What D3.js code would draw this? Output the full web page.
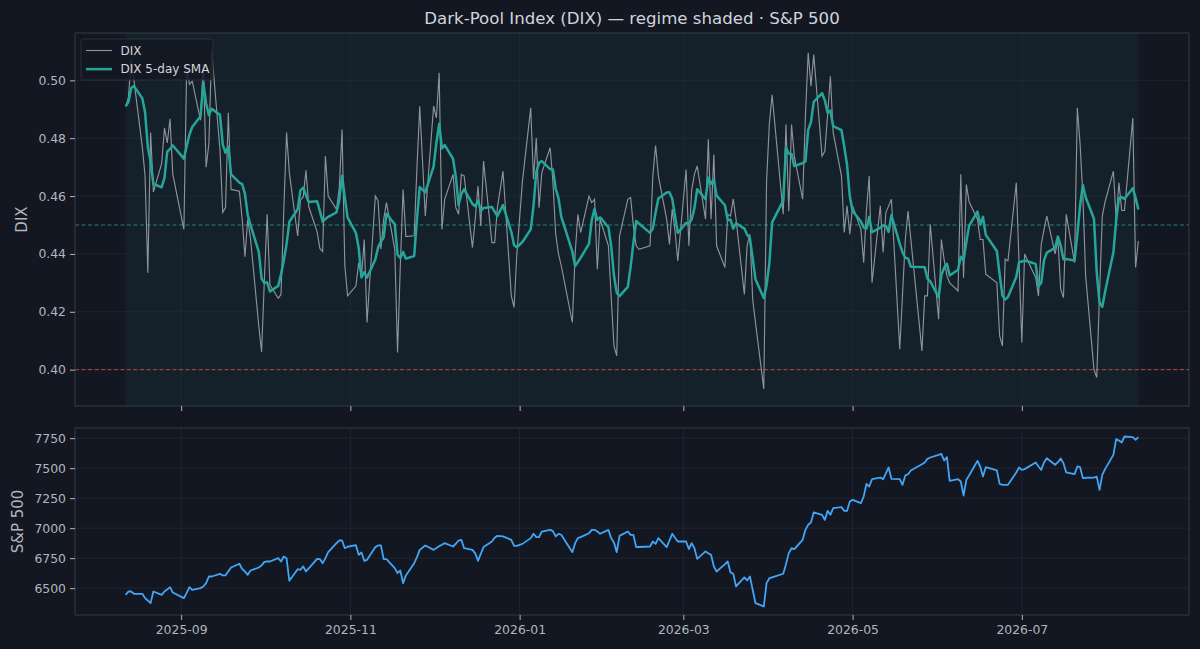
<!DOCTYPE html>
<html><head><meta charset="utf-8">
<script src="https://cdn.jsdelivr.net/npm/d3@7"></script>
<style>
html,body{margin:0;padding:0;background:#131722;}
svg{display:block;}
text{font-family:"DejaVu Sans",sans-serif;}
</style></head><body>
<svg id="chart" width="1200" height="649"></svg>
<script>
// ---------------- data ----------------
const startDate = "2025-08-12";
const endDate = "2026-08-12";
const holidays = ["2025-09-01","2025-11-27","2025-12-25","2026-01-01","2026-01-19",
  "2026-02-16","2026-04-03","2026-05-25","2026-06-19","2026-07-03"];

// DIX, one value per trading day (weekly rows)
const dix = [
  0.491,0.494,0.507,0.500,
  0.477,0.467,0.4335,0.482,0.4614,
  0.4713,0.4836,0.4784,0.4867,0.4675,
  0.4485,0.505,0.4986,0.4997,
  0.4862,0.506,0.470,0.478,0.5105,
  0.476,0.4543,0.456,0.4888,0.4623,
  0.4617,0.452,0.439,0.452,0.4454,
  0.415,0.4061,0.431,0.4537,0.4293,
  0.4247,0.426,0.455,0.482,0.468,
  0.4462,0.4586,0.4597,0.4689,0.4563,
  0.4477,0.4419,0.4408,0.4738,0.460,
  0.4554,0.463,0.483,0.4359,0.4255,
  0.4289,0.437,0.432,0.445,0.4163,
  0.460,0.4583,0.4416,0.452,0.4577,
  0.4416,0.4059,0.436,0.4623,0.446,
  0.4463,0.470,0.491,0.4531,
  0.4911,0.487,0.5026,0.4485,0.4589,
  0.4675,0.456,0.4537,0.4675,0.467,
  0.4422,0.452,0.4635,0.4497,0.4721,
  0.4439,0.4439,0.456,0.4686,
  0.4255,0.4215,0.440,0.465,
  0.4905,0.4658,0.4801,0.456,0.4681,
  0.4767,0.465,0.4468,0.440,0.436,
  0.4163,0.440,0.4537,0.4474,
  0.460,0.4577,0.4589,0.4347,0.452,
  0.4428,0.425,0.4082,0.4048,0.4462,
  0.4589,0.4595,0.4497,0.4428,0.4416,
  0.4428,0.4669,0.4775,0.467,
  0.452,0.4433,0.4555,0.448,0.4376,
  0.4692,0.4428,0.462,0.4675,0.4704,
  0.452,0.4796,0.452,0.4744,0.4428,
  0.4353,0.4537,0.4531,0.459,0.452,
  0.426,0.443,0.4468,0.4243,0.4163,
  0.3933,0.465,0.485,0.495,
  0.4537,0.4847,0.4548,0.4847,0.4738,
  0.4589,0.4876,0.5095,0.498,0.5089,
  0.4738,0.4755,0.488,0.5014,0.482,
  0.4669,0.4474,0.4566,0.4468,0.4566,
  0.4485,0.437,0.455,0.4669,0.4301,
  0.4566,0.4405,0.4543,0.4566,0.4589,
  0.4071,0.426,0.445,0.4548,0.445,
  0.4065,0.4255,0.4255,0.4502,
  0.4174,0.445,0.438,0.4324,0.430,
  0.4272,0.4675,0.4318,0.464,0.458,
  0.452,0.445,0.445,0.433,
  0.430,0.4117,0.4082,0.4382,0.4376,
  0.4646,0.437,0.4094,0.440,
  0.4318,0.4255,0.4433,0.4485,0.4531,
  0.440,0.445,0.4278,0.4249,0.4537,
  0.437,0.4905,0.478,0.460,0.4324,
  0.400,0.3973,0.426,0.4531,0.458,
  0.4686,0.452,0.4646,0.455,0.455,
  0.487,0.4353,0.4445
];

// S&P 500 close, same trading days
const spx = [
  6444,6472,6472,6453,
  6453,6417,6397,6375,6472,
  6444,6472,6490,6508,6464,
  6417,6460,6508,6486,
  6500,6514,6542,6597,6597,
  6619,6606,6606,6640,6672,
  6703,6660,6639,6611,6647,
  6672,6690,6719,6722,6722,
  6750,6722,6764,6750,6561,
  6658,6653,6681,6639,6665,
  6744,6742,6708,6750,6800,
  6875,6897,6897,6833,6845,
  6858,6778,6797,6728,6736,
  6842,6856,6856,6742,6742,
  6667,6625,6647,6542,6606,
  6708,6758,6819,6856,
  6819,6835,6850,6862,6875,
  6847,6870,6897,6903,6833,
  6819,6790,6728,6785,6842,
  6889,6920,6936,6931,
  6903,6853,6853,6869,
  6917,6953,6925,6925,6972,
  6986,6975,6931,6953,6945,
  6800,6875,6917,6925,
  6958,6986,6986,6972,6953,
  6986,6917,6880,6800,6936,
  6972,6944,6944,6842,6843,
  6847,6889,6869,6917,
  6842,6897,6953,6920,6889,
  6889,6825,6875,6833,6744,
  6806,6790,6778,6681,6639,
  6700,6722,6631,6620,6514,
  6589,6564,6597,6486,6375,
  6347,6542,6583,6590,
  6620,6700,6792,6833,6825,
  6903,6986,7028,7047,7131,
  7111,7069,7144,7111,7167,
  7175,7144,7144,7222,7236,
  7208,7264,7369,7347,7408,
  7422,7408,7457,7506,7411,
  7408,7361,7439,7450,7481,
  7533,7547,7578,7589,
  7611,7619,7564,7592,7394,
  7408,7389,7272,7403,7439,
  7561,7514,7431,7508,
  7481,7369,7361,7361,7361,
  7464,7506,7486,7492,
  7547,7514,7486,7547,7583,
  7528,7550,7581,7542,7464,
  7450,7514,7508,7417,7420,
  7422,7430,7319,7444,7492,
  7611,7742,7730,7714,7764,
  7758,7736,7758
];

const dixTicks = [0.40,0.42,0.44,0.46,0.48,0.50];
const spxTicks = [6500,6750,7000,7250,7500,7750];
const dateTicks = ["2025-09-01","2025-11-01","2026-01-01","2026-03-01","2026-05-01","2026-07-01"];
const dateTickLabels = ["2025-09","2025-11","2026-01","2026-03","2026-05","2026-07"];
const refLevels = [0.45, 0.40];
const refColors = ["#26a69a", "#ef5350"];
const smaWindow = 5;
const titleText = "Dark-Pool Index (DIX) \u2014 regime shaded \u00b7 S&P 500";
const legendLabels = ["DIX", "DIX 5-day SMA"];

// ---------------- build ----------------
const parse = d3.utcParse("%Y-%m-%d");
const hol = new Set(holidays);
const fmtDay = d3.utcFormat("%Y-%m-%d");
const allDays = d3.utcDay.range(parse(startDate), d3.utcDay.offset(parse(endDate), 1));
const dates = allDays.filter(d => d.getUTCDay() !== 0 && d.getUTCDay() !== 6 && !hol.has(fmtDay(d)));
const n = Math.min(dates.length, dix.length, spx.length);
const rows = d3.range(n).map(i => ({date: dates[i], dix: dix[i], spx: spx[i]}));
rows.forEach((r, i) => { r.sma = d3.mean(rows.slice(Math.max(0, i - smaWindow + 1), i + 1), d => d.dix); });

const W = 1200, H = 649;
const L = 75, R = 1189;
const top1 = 33, bot1 = 406, top2 = 428, bot2 = 615;

const svg = d3.select("#chart");
svg.append("rect").attr("width", W).attr("height", H).attr("fill", "#131722");

function pad(ext, f) { const s = ext[1] - ext[0]; return [ext[0] - s * f, ext[1] + s * f]; }
const x = d3.scaleUtc().domain(pad(d3.extent(rows, d => d.date).map(Number), 0.05).map(v => new Date(v))).range([L, R]);
const y1 = d3.scaleLinear().domain(pad(d3.extent(rows, d => d.dix), 0.05)).range([bot1, top1]);
const y2 = d3.scaleLinear().domain(pad(d3.extent(rows, d => d.spx), 0.05)).range([bot2, top2]);

const gridColor = "#232834";
const spineColor = "#363a45";
const tickColor = "#b2b5be";
const xt = dateTicks.map(parse);

// ---- top panel ----
const g1 = svg.append("g");
g1.append("rect").attr("x", L).attr("y", top1).attr("width", R - L).attr("height", bot1 - top1).attr("fill", "#131722");
g1.append("rect")
  .attr("x", x(rows[0].date)).attr("y", top1)
  .attr("width", x(rows[n - 1].date) - x(rows[0].date)).attr("height", bot1 - top1)
  .attr("fill", "#26a69a").attr("fill-opacity", 0.075);
g1.selectAll(".gy").data(dixTicks).join("line")
  .attr("x1", L).attr("x2", R).attr("y1", d => y1(d)).attr("y2", d => y1(d))
  .attr("stroke", gridColor).attr("stroke-width", 0.8);
g1.selectAll(".gx").data(xt).join("line")
  .attr("x1", d => x(d)).attr("x2", d => x(d)).attr("y1", top1).attr("y2", bot1)
  .attr("stroke", gridColor).attr("stroke-width", 0.8);
g1.selectAll(".ref").data(refLevels).join("line")
  .attr("x1", L).attr("x2", R).attr("y1", d => y1(d)).attr("y2", d => y1(d))
  .attr("stroke", (d, i) => refColors[i]).attr("stroke-opacity", 0.75)
  .attr("stroke-width", 1).attr("stroke-dasharray", "4,2.5");
const lineDix = d3.line().x(d => x(d.date)).y(d => y1(d.dix));
const lineSma = d3.line().x(d => x(d.date)).y(d => y1(d.sma));
g1.append("path").datum(rows).attr("d", lineDix)
  .attr("fill", "none").attr("stroke", "#a3a6ae").attr("stroke-opacity", 0.85).attr("stroke-width", 1.15);
g1.append("path").datum(rows).attr("d", lineSma)
  .attr("fill", "none").attr("stroke", "#26a69a").attr("stroke-width", 2.5).attr("stroke-linejoin", "round");
g1.append("rect").attr("x", L).attr("y", top1).attr("width", R - L).attr("height", bot1 - top1)
  .attr("fill", "none").attr("stroke", spineColor).attr("stroke-width", 1);

const ax1 = svg.append("g").attr("transform", `translate(${L},0)`)
  .call(d3.axisLeft(y1).tickValues(dixTicks).tickFormat(d3.format(".2f")).tickSize(5).tickPadding(4));
const ax1x = svg.append("g").attr("transform", `translate(0,${bot1})`)
  .call(d3.axisBottom(x).tickValues(xt).tickFormat("").tickSize(5));

// ---- bottom panel ----
const g2 = svg.append("g");
g2.selectAll(".gy2").data(spxTicks).join("line")
  .attr("x1", L).attr("x2", R).attr("y1", d => y2(d)).attr("y2", d => y2(d))
  .attr("stroke", gridColor).attr("stroke-width", 0.8);
g2.selectAll(".gx2").data(xt).join("line")
  .attr("x1", d => x(d)).attr("x2", d => x(d)).attr("y1", top2).attr("y2", bot2)
  .attr("stroke", gridColor).attr("stroke-width", 0.8);
const lineSpx = d3.line().x(d => x(d.date)).y(d => y2(d.spx));
g2.append("path").datum(rows).attr("d", lineSpx)
  .attr("fill", "none").attr("stroke", "#42a5f5").attr("stroke-width", 1.8).attr("stroke-linejoin", "round");
g2.append("rect").attr("x", L).attr("y", top2).attr("width", R - L).attr("height", bot2 - top2)
  .attr("fill", "none").attr("stroke", spineColor).attr("stroke-width", 1);

const ax2 = svg.append("g").attr("transform", `translate(${L},0)`)
  .call(d3.axisLeft(y2).tickValues(spxTicks).tickFormat(d3.format("d")).tickSize(5).tickPadding(4));
const ax2x = svg.append("g").attr("transform", `translate(0,${bot2})`)
  .call(d3.axisBottom(x).tickValues(xt).tickFormat((d, i) => dateTickLabels[i]).tickSize(5).tickPadding(5));

[ax1, ax1x, ax2, ax2x].forEach(a => {
  a.select(".domain").remove();
  a.selectAll(".tick line").attr("stroke", tickColor).attr("stroke-width", 1);
  a.selectAll(".tick text").attr("fill", tickColor).attr("font-size", 12.4)
    .attr("font-family", "DejaVu Sans, sans-serif");
});

// ---- labels ----
svg.append("text").attr("x", (L + R) / 2).attr("y", 24).attr("text-anchor", "middle")
  .attr("fill", "#d1d4dc").attr("font-size", 16.6).text(titleText);
svg.append("text").attr("transform", `translate(27,${(top1 + bot1) / 2}) rotate(-90)`)
  .attr("text-anchor", "middle").attr("fill", tickColor).attr("font-size", 15).text("DIX");
svg.append("text").attr("transform", `translate(23,${(top2 + bot2) / 2}) rotate(-90)`)
  .attr("text-anchor", "middle").attr("fill", tickColor).attr("font-size", 15).text("S&P 500");

// ---- legend ----
const lg = svg.append("g");
lg.append("rect").attr("x", 81).attr("y", 39).attr("width", 132).attr("height", 41).attr("rx", 2)
  .attr("fill", "#131722").attr("fill-opacity", 0.85).attr("stroke", "#2a2e39").attr("stroke-width", 1);
const legendStyles = [{c: "#a3a6ae", w: 1.15, o: 0.85}, {c: "#26a69a", w: 2.5, o: 1}];
legendLabels.forEach((lab, i) => {
  const yy = 50.5 + i * 18.6;
  lg.append("line").attr("x1", 86).attr("x2", 112).attr("y1", yy).attr("y2", yy)
    .attr("stroke", legendStyles[i].c).attr("stroke-width", legendStyles[i].w).attr("stroke-opacity", legendStyles[i].o);
  lg.append("text").attr("x", 120.5).attr("y", yy + 4.3).attr("fill", "#d1d4dc").attr("font-size", 12).text(lab);
});
</script>
</body></html>
